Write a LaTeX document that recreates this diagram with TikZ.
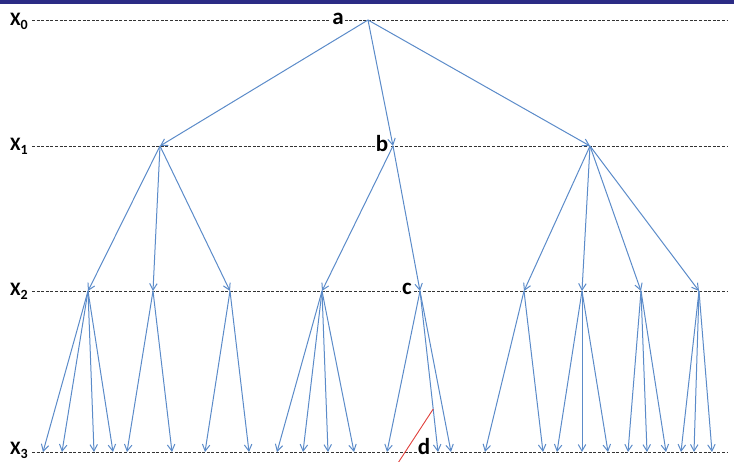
\documentclass[tikz,border=0pt]{standalone}
\usepackage{fontspec}
\setmainfont{Carlito}
\usetikzlibrary{arrows.meta,calc}
\definecolor{edgeblue}{HTML}{5B8BC9}
\definecolor{barblue}{HTML}{2B2B85}
\definecolor{redline}{HTML}{E0403C}
\newcommand{\lvsub}[1]{\raisebox{-4pt}{\fontsize{14}{14}\selectfont #1}}
\begin{document}
\begin{tikzpicture}[x=1pt,y=-1pt,
  edge/.style={draw=edgeblue,line width=1pt,-{Straight Barb[length=6.5pt,width=7.5pt,line width=1pt]}},
  level/.style={draw=black!80,line width=0.9pt,dash pattern=on 3pt off 1.6pt},
  lvlabel/.style={font=\bfseries\fontsize{19}{20}\selectfont,inner sep=0pt,anchor=west},
  letter/.style={font=\bfseries\fontsize{23}{24}\selectfont,inner sep=0pt}]
\useasboundingbox (0,0) rectangle (734,462);
\fill[barblue] (0,0) rectangle (734,4);
% level lines
\coordinate (L0a) at (32,20);  \coordinate (L0b) at (728,20);
\coordinate (L1a) at (32,146); \coordinate (L1b) at (728,146);
\coordinate (L2a) at (32,291); \coordinate (L2b) at (728,291);
\coordinate (L3a) at (32,452); \coordinate (L3b) at (728,452);
\draw[level] (L0a) -- (L0b);
\draw[level] (L1a) -- (L1b);
\draw[level] (L2a) -- (L2b);
\draw[level] (L3a) -- (L3b);
\node[lvlabel] (x0) at (10,21) {X\lvsub{0}};
\node[lvlabel] (x1) at (10,146) {X\lvsub{1}};
\node[lvlabel] (x2) at (10,291) {X\lvsub{2}};
\node[lvlabel] (x3) at (10,450) {X\lvsub{3}};
% tree points
\coordinate (a) at (368,20);
\coordinate (n1a) at (160,146); \coordinate (b) at (393,146); \coordinate (n1c) at (590,146);
\coordinate (n2a) at (88,291); \coordinate (n2b) at (153,291); \coordinate (n2c) at (230,291);
\coordinate (n2d) at (322,291); \coordinate (c) at (420,291);
\coordinate (n2f) at (524,291); \coordinate (n2g) at (582,291); \coordinate (n2h) at (641,291); \coordinate (n2i) at (699,291);
% labels
\node[letter,fill=white,inner xsep=1pt] (la) at (338,19) {a};
\node[letter,fill=white,inner xsep=1pt] (lb) at (382,144) {b};
\node[letter,fill=white,inner xsep=1pt] (lc) at (407,289) {c};
% level 0 -> 1
\foreach \t in {n1a,b,n1c} \draw[edge] (a) -- (\t);
% level 1 -> 2
\foreach \t in {n2a,n2b,n2c} \draw[edge] (n1a) -- (\t);
\foreach \t in {n2d,c} \draw[edge] (b) -- (\t);
\foreach \t in {n2f,n2g,n2h,n2i} \draw[edge] (n1c) -- (\t);
% level 2 -> 3
\foreach \p/\xs in {n2a/{43,62,94,113}, n2b/{127,172}, n2c/{205,249},
                    n2d/{277,303,328,354}, c/{387,438,451},
                    n2f/{485,543}, n2g/{557,582,608}, n2h/{628,647,666}, n2i/{681,694,712}}{
  \foreach \x in \xs {
    \coordinate (leaf) at (\x,452);
    \draw[edge] (\p) -- (leaf);
  }
}
\coordinate (cd) at (438,452);
\coordinate (rs) at ($(c)!0.733!(cd)$);
\coordinate (re) at (398,463);
\draw[redline,line width=0.9pt] (rs) -- (re);
\node[letter,fill=white,inner xsep=1pt] (ld) at (424,447) {d};
\end{tikzpicture}
\end{document}
